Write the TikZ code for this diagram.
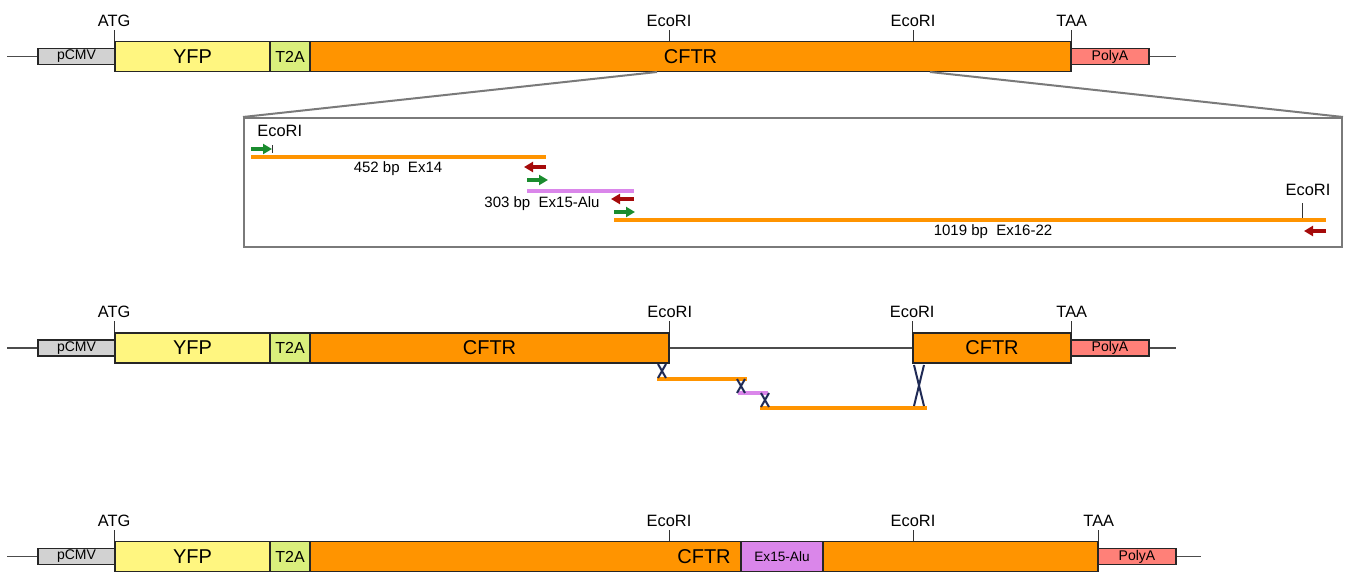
\documentclass[tikz,border=0pt]{standalone}
\usepackage{fontspec}
\setmainfont{Liberation Sans}
\usetikzlibrary{arrows.meta}
\definecolor{cmvgray}{HTML}{D2D2D2}
\definecolor{yfpyellow}{HTML}{FFF680}
\definecolor{t2agreen}{HTML}{DAEF7C}
\definecolor{cftrorange}{HTML}{FF9400}
\definecolor{polyred}{HTML}{FF8078}
\definecolor{aluviolet}{HTML}{DA86EA}
\definecolor{xnavy}{HTML}{1F2A55}
\definecolor{primergreen}{HTML}{1A8C2E}
\definecolor{primerred}{HTML}{A50A0A}
\definecolor{zoomgray}{HTML}{7A7A7A}
\begin{document}
\begin{tikzpicture}[x=0.5pt, y=-0.5pt, every node/.style={inner sep=0pt},
	part/.style={draw=black!85, line width=0.8pt, inner sep=0pt},
	bigpart/.style={part, minimum height=15pt, font=\fontsize{10}{12}\selectfont},
	smallpart/.style={part, minimum height=8pt, font=\fontsize{7}{8}\selectfont},
	bb/.style={draw=black!70, line width=0.6pt},
	tick/.style={draw=black!80, line width=0.5pt},
	site/.style={anchor=south, inner sep=1.5pt, font=\fontsize{8.2}{9}\selectfont},
	frag/.style={line width=2.3pt},
	fwd/.style={-{Triangle[length=4.5pt,width=5pt]}, line width=1.8pt, primergreen},
	rev/.style={fwd, primerred},
	cross/.style={draw=xnavy, line width=1pt},
	bplab/.style={anchor=base, font=\fontsize{7.5}{9}\selectfont}]
	\useasboundingbox (0,0) rectangle (1345,572);
	\coordinate (ea) at (669,0);
	\coordinate (eb) at (913,0);
	\foreach \y/\r in {56.5/a,348/b,556.5/c} {
		\node[smallpart, fill=cmvgray, minimum width=38.5pt] (cmv\r) at (76.5,\y) {pCMV};
		\node[bigpart, fill=yfpyellow, minimum width=77.5pt] (yfp\r) at (192.5,\y) {YFP};
		\node[bigpart, fill=t2agreen, minimum width=20pt, font=\fontsize{8}{9}\selectfont] (t2a\r) at (290,\y) {T2A};
		\draw[bb] (cmv\r.west) -- ++(-30,0);
		\draw[tick] (yfp\r.north west) -- ++(0,-11) node[site] {ATG};
	}
	\node[bigpart, fill=cftrorange, minimum width=380.5pt] (cftra) at (690.5,56.5) {CFTR};
	\node[smallpart, fill=polyred, minimum width=39pt] (pola) at (1110,56.5) {PolyA};
	\draw[bb] (pola.east) -- ++(26,0);
	\draw[tick] (cftra.north -| ea) -- ++(0,-11) node[site] {EcoRI};
	\draw[tick] (cftra.north -| eb) -- ++(0,-11) node[site] {EcoRI};
	\draw[tick] (cftra.north east) -- ++(0,-11) node[site] {TAA};
	\coordinate (zl) at (657,72);
	\coordinate (zr) at (930,72);
	\node[draw=zoomgray, line width=1pt, minimum width=549pt, minimum height=64.5pt] (zoom) at (793,182.5) {};
	\draw[zoomgray, line width=1pt] (zl) -- (zoom.north west) (zr) -- (zoom.north east);
	\draw[frag, cftrorange] (251,157) -- (546,157);
	\draw[frag, aluviolet] (527,191) -- (634,191);
	\draw[frag, cftrorange] (614,220) -- (1326,220);
	\draw[fwd] (251,149) -- (272,149);
	\draw[rev] (546,167) -- (524,167);
	\draw[fwd] (527,180) -- (548,180);
	\draw[rev] (634,199) -- (611,199);
	\draw[fwd] (614,212) -- (635,212);
	\draw[rev] (1326,231) -- (1304,231);
	\node[site, anchor=south west] (eco1) at (254,140) {EcoRI};
	\draw[tick] (272,153) -- (272,145);
	\node[site] (eco2) at (1308,199) {EcoRI};
	\draw[tick] (1302,218) -- (1302,203);
	\node[bplab] (ex14) at (398,173) {452 bp\ \ Ex14};
	\node[bplab] (ex15) at (542,208) {303 bp\ \ Ex15-Alu};
	\node[bplab] (ex16) at (993,236) {1019 bp\ \ Ex16-22};
	\node[bigpart, fill=cftrorange, minimum width=179.5pt] (cftrb) at (489.5,348) {CFTR};
	\node[bigpart, fill=cftrorange, minimum width=79pt] (cftrbb) at (992,348) {CFTR};
	\node[smallpart, fill=polyred, minimum width=39pt] (polb) at (1110,348) {PolyA};
	\draw[bb] (cftrb.east) -- (cftrbb.west);
	\draw[bb] (polb.east) -- ++(26,0);
	\draw[tick] (cftrb.north east) -- ++(0,-11) node[site] {EcoRI};
	\draw[tick] (cftrbb.north west) -- ++(0,-11) node[site] {EcoRI};
	\draw[tick] (cftrbb.north east) -- ++(0,-11) node[site] {TAA};
	\draw[frag, cftrorange] (657,379) -- (747,379);
	\draw[frag, aluviolet] (738,393) -- (768,393);
	\draw[frag, cftrorange] (760,408) -- (927,408);
	\foreach \x/\ya/\yb/\w in {662/364/378/4, 741/379/393/4, 765/393/407/4, 919/365/406/5}
		\draw[cross] ({\x-\w},\ya) -- ({\x+\w},\yb) ({\x+\w},\ya) -- ({\x-\w},\yb);
	\node[bigpart, fill=cftrorange, minimum width=394pt] (cftrc) at (704,556.5) {CFTR};
	\node[bigpart, fill=aluviolet, minimum width=41pt, font=\fontsize{6.8}{8}\selectfont] (aluc) at (782,556.5) {Ex15-Alu};
	\node[smallpart, fill=polyred, minimum width=39pt] (polc) at (1137,556.5) {PolyA};
	\draw[bb] (polc.east) -- ++(24,0);
	\draw[tick] (cftrc.north -| ea) -- ++(0,-11) node[site] {EcoRI};
	\draw[tick] (cftrc.north -| eb) -- ++(0,-11) node[site] {EcoRI};
	\draw[tick] (cftrc.north east) -- ++(0,-11) node[site] {TAA};
\end{tikzpicture}
\end{document}
